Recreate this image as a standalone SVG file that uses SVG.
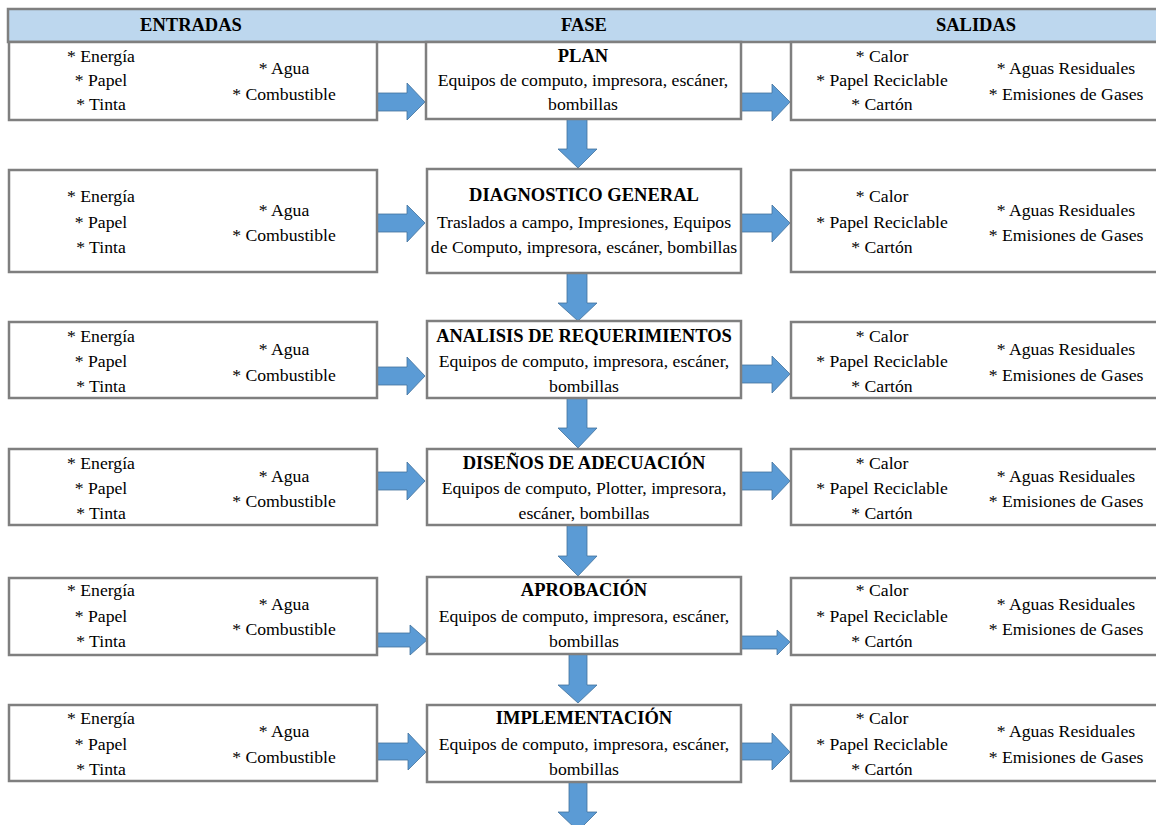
<svg xmlns="http://www.w3.org/2000/svg" width="1156" height="825" viewBox="0 0 1156 825" font-family="'Liberation Serif', 'Times New Roman', 'DejaVu Serif', serif">
<style>
.bg{fill:#ffffff}
.hdr{fill:#BDD7EE;stroke:#7F7F7F;stroke-width:2.5}
.box{fill:#ffffff;stroke:#7F7F7F;stroke-width:2.5}
.ar{fill:#5B9BD5;stroke:#41719C;stroke-width:0.8}
text{font-size:17.7px;fill:#000;text-anchor:middle}
.b{font-weight:bold;font-size:18.5px}
</style>
<rect class="bg" x="0" y="0" width="1156" height="825"/>
<g id="header">
<rect class="hdr" x="8" y="9" width="1160" height="33"/>
<text class="b" x="191" y="31">ENTRADAS</text>
<text class="b" x="584" y="31">FASE</text>
<text class="b" x="976" y="31">SALIDAS</text>
</g>
<g id="connectors">
<path class="ar" d="M377,93 H407 V83 L425,102 L407,120 V111 H377 Z"/>
<path class="ar" d="M741,93 H772 V84 L790,102 L772,121 V111 H741 Z"/>
<path class="ar" d="M567,119 H587 V149 H597 L578,168 L558,149 H567 Z"/>
<path class="ar" d="M377,214 H407 V205 L425,223 L407,242 V232 H377 Z"/>
<path class="ar" d="M741,214 H772 V205 L790,223 L772,242 V232 H741 Z"/>
<path class="ar" d="M567,273 H587 V303 H597 L578,321 L558,303 H567 Z"/>
<path class="ar" d="M377,367 H407 V357 L425,376 L407,395 V385 H377 Z"/>
<path class="ar" d="M741,365 H772 V356 L790,374 L772,393 V383 H741 Z"/>
<path class="ar" d="M567,398 H587 V428 H597 L578,448 L558,428 H567 Z"/>
<path class="ar" d="M377,472 H407 V462 L425,481 L407,500 V490 H377 Z"/>
<path class="ar" d="M741,472 H772 V462 L790,481 L772,500 V490 H741 Z"/>
<path class="ar" d="M567,525 H587 V556 H597 L578,576 L558,556 H567 Z"/>
<path class="ar" d="M377,633 H410 V625 L427,640 L410,655 V647 H377 Z"/>
<path class="ar" d="M741,636 H777 V630 L790,642 L777,655 V649 H741 Z"/>
<path class="ar" d="M569,654 H587 V685 H597 L578,703 L558,685 H569 Z"/>
<path class="ar" d="M377,743 H408 V733 L426,752 L408,770 V760 H377 Z"/>
<path class="ar" d="M741,743 H772 V733 L790,752 L772,770 V760 H741 Z"/>
<path class="ar" d="M569,782 H587 V812 H597 L578,831 L558,812 H569 Z"/>
</g>
<!-- Row 1 -->
<g id="in1"><rect class="box" x="9" y="42" width="368" height="78"/>
<text x="101" y="62">* Energía</text><text x="101" y="86">* Papel</text><text x="101" y="110">* Tinta</text>
<text x="284" y="74">* Agua</text><text x="284" y="100">* Combustible</text></g>
<g id="fase1"><rect class="box" x="426" y="42" width="315" height="77"/>
<text class="b" x="583" y="62">PLAN</text><text x="583" y="86">Equipos de computo, impresora, escáner,</text><text x="583" y="110">bombillas</text></g>
<g id="out1"><rect class="box" x="791" y="42" width="380" height="78"/>
<text x="882" y="62">* Calor</text><text x="882" y="86">* Papel Reciclable</text><text x="882" y="110">* Cartón</text>
<text x="1066" y="74">* Aguas Residuales</text><text x="1066" y="100">* Emisiones de Gases</text></g>
<!-- Row 2 -->
<g id="in2"><rect class="box" x="9" y="170" width="368" height="102"/>
<text x="101" y="202">* Energía</text><text x="101" y="228">* Papel</text><text x="101" y="253">* Tinta</text>
<text x="284" y="216">* Agua</text><text x="284" y="241">* Combustible</text></g>
<g id="fase2"><rect class="box" x="427" y="169" width="314" height="104"/>
<text class="b" x="584" y="201">DIAGNOSTICO GENERAL</text><text x="584" y="228">Traslados a campo, Impresiones, Equipos</text><text x="584" y="253">de Computo, impresora, escáner, bombillas</text></g>
<g id="out2"><rect class="box" x="791" y="170" width="380" height="102"/>
<text x="882" y="202">* Calor</text><text x="882" y="228">* Papel Reciclable</text><text x="882" y="253">* Cartón</text>
<text x="1066" y="216">* Aguas Residuales</text><text x="1066" y="241">* Emisiones de Gases</text></g>
<!-- Row 3 -->
<g id="in3"><rect class="box" x="9" y="322" width="368" height="76"/>
<text x="101" y="342">* Energía</text><text x="101" y="367">* Papel</text><text x="101" y="392">* Tinta</text>
<text x="284" y="355">* Agua</text><text x="284" y="381">* Combustible</text></g>
<g id="fase3"><rect class="box" x="427" y="321" width="314" height="77"/>
<text class="b" x="584" y="342">ANALISIS DE REQUERIMIENTOS</text><text x="584" y="367">Equipos de computo, impresora, escáner,</text><text x="584" y="392">bombillas</text></g>
<g id="out3"><rect class="box" x="791" y="322" width="380" height="76"/>
<text x="882" y="342">* Calor</text><text x="882" y="367">* Papel Reciclable</text><text x="882" y="392">* Cartón</text>
<text x="1066" y="355">* Aguas Residuales</text><text x="1066" y="381">* Emisiones de Gases</text></g>
<!-- Row 4 -->
<g id="in4"><rect class="box" x="9" y="449" width="368" height="76"/>
<text x="101" y="469">* Energía</text><text x="101" y="494">* Papel</text><text x="101" y="519">* Tinta</text>
<text x="284" y="482">* Agua</text><text x="284" y="507">* Combustible</text></g>
<g id="fase4"><rect class="box" x="427" y="449" width="314" height="76"/>
<text class="b" x="584" y="469">DISEÑOS DE ADECUACIÓN</text><text x="584" y="494">Equipos de computo, Plotter, impresora,</text><text x="584" y="519">escáner, bombillas</text></g>
<g id="out4"><rect class="box" x="791" y="449" width="380" height="76"/>
<text x="882" y="469">* Calor</text><text x="882" y="494">* Papel Reciclable</text><text x="882" y="519">* Cartón</text>
<text x="1066" y="482">* Aguas Residuales</text><text x="1066" y="507">* Emisiones de Gases</text></g>
<!-- Row 5 -->
<g id="in5"><rect class="box" x="9" y="578" width="368" height="77"/>
<text x="101" y="596">* Energía</text><text x="101" y="622">* Papel</text><text x="101" y="647">* Tinta</text>
<text x="284" y="610">* Agua</text><text x="284" y="635">* Combustible</text></g>
<g id="fase5"><rect class="box" x="427" y="577" width="314" height="77"/>
<text class="b" x="584" y="596">APROBACIÓN</text><text x="584" y="622">Equipos de computo, impresora, escáner,</text><text x="584" y="647">bombillas</text></g>
<g id="out5"><rect class="box" x="791" y="578" width="380" height="77"/>
<text x="882" y="596">* Calor</text><text x="882" y="622">* Papel Reciclable</text><text x="882" y="647">* Cartón</text>
<text x="1066" y="610">* Aguas Residuales</text><text x="1066" y="635">* Emisiones de Gases</text></g>
<!-- Row 6 -->
<g id="in6"><rect class="box" x="9" y="705" width="368" height="76"/>
<text x="101" y="724">* Energía</text><text x="101" y="750">* Papel</text><text x="101" y="775">* Tinta</text>
<text x="284" y="737">* Agua</text><text x="284" y="763">* Combustible</text></g>
<g id="fase6"><rect class="box" x="427" y="705" width="314" height="77"/>
<text class="b" x="584" y="724">IMPLEMENTACIÓN</text><text x="584" y="750">Equipos de computo, impresora, escáner,</text><text x="584" y="775">bombillas</text></g>
<g id="out6"><rect class="box" x="791" y="705" width="380" height="76"/>
<text x="882" y="724">* Calor</text><text x="882" y="750">* Papel Reciclable</text><text x="882" y="775">* Cartón</text>
<text x="1066" y="737">* Aguas Residuales</text><text x="1066" y="763">* Emisiones de Gases</text></g>
</svg>
